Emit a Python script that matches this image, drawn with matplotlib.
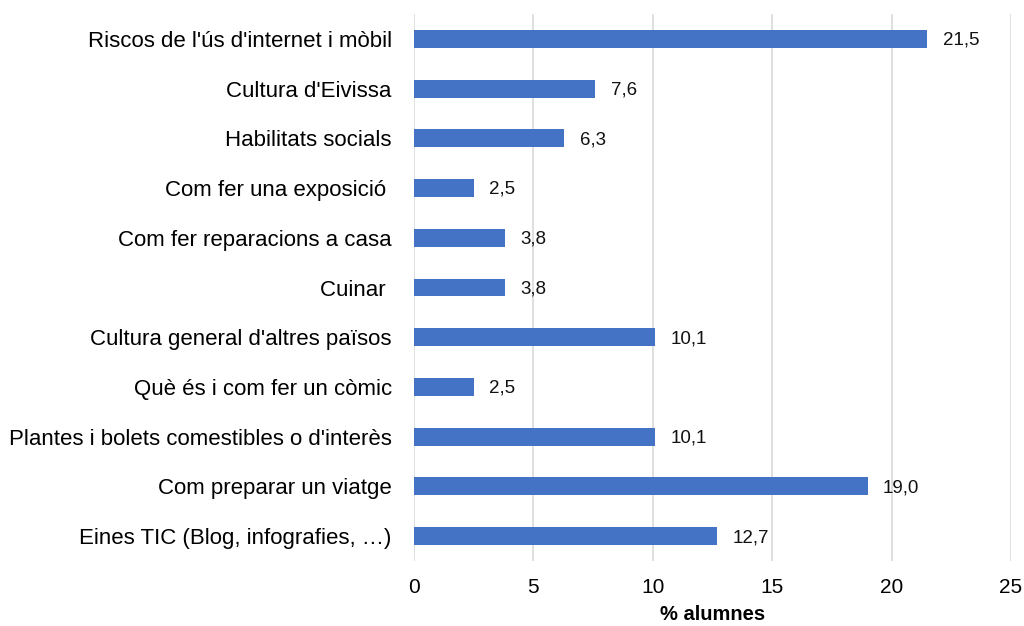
import matplotlib.pyplot as plt
import numpy as np

plt.rcParams['font.family'] = ['Liberation Sans', 'DejaVu Sans']

categories = [
    "Riscos de l'ús d'internet i mòbil",
    "Cultura d'Eivissa",
    "Habilitats socials",
    "Com fer una exposició ",
    "Com fer reparacions a casa",
    "Cuinar ",
    "Cultura general d'altres països",
    "Què és i com fer un còmic",
    "Plantes i bolets comestibles o d'interès",
    "Com preparar un viatge",
    "Eines TIC (Blog, infografies, …)",
]
values = [21.5, 7.6, 6.3, 2.5, 3.8, 3.8, 10.1, 2.5, 10.1, 19.0, 12.7]

fig = plt.figure(figsize=(10.24, 6.26), dpi=100)
ax = fig.add_axes([0.4043, 0.1038, 0.5830, 0.8738])

y = np.arange(len(categories))[::-1]
ax.barh(y, values, height=0.36, color='#4472C4', zorder=3)

for yi, v in zip(y, values):
    ax.annotate(f"{v:.1f}".replace('.', ','), (v, yi), xytext=(11, -1),
                textcoords='offset points', va='center', ha='left',
                fontsize=13.5, color='#111111')

ax.set_xlim(0, 25)
ax.set_ylim(-0.5, len(categories) - 0.5)
ax.set_xticks(range(0, 26, 5))
ax.set_yticks(y)
ax.set_yticklabels(categories, fontsize=16)
ax.tick_params(axis='x', labelsize=15, length=0, pad=12)
ax.tick_params(axis='y', length=0, pad=16)
ax.grid(axis='x', color='#d9d9d9', linewidth=1.2, zorder=0)
for s in ax.spines.values():
    s.set_visible(False)

ax.set_xlabel('% alumnes', fontsize=14.5, fontweight='bold')
ax.xaxis.set_label_coords(0.5, -0.08)

fig.savefig('out.png', dpi=100)
